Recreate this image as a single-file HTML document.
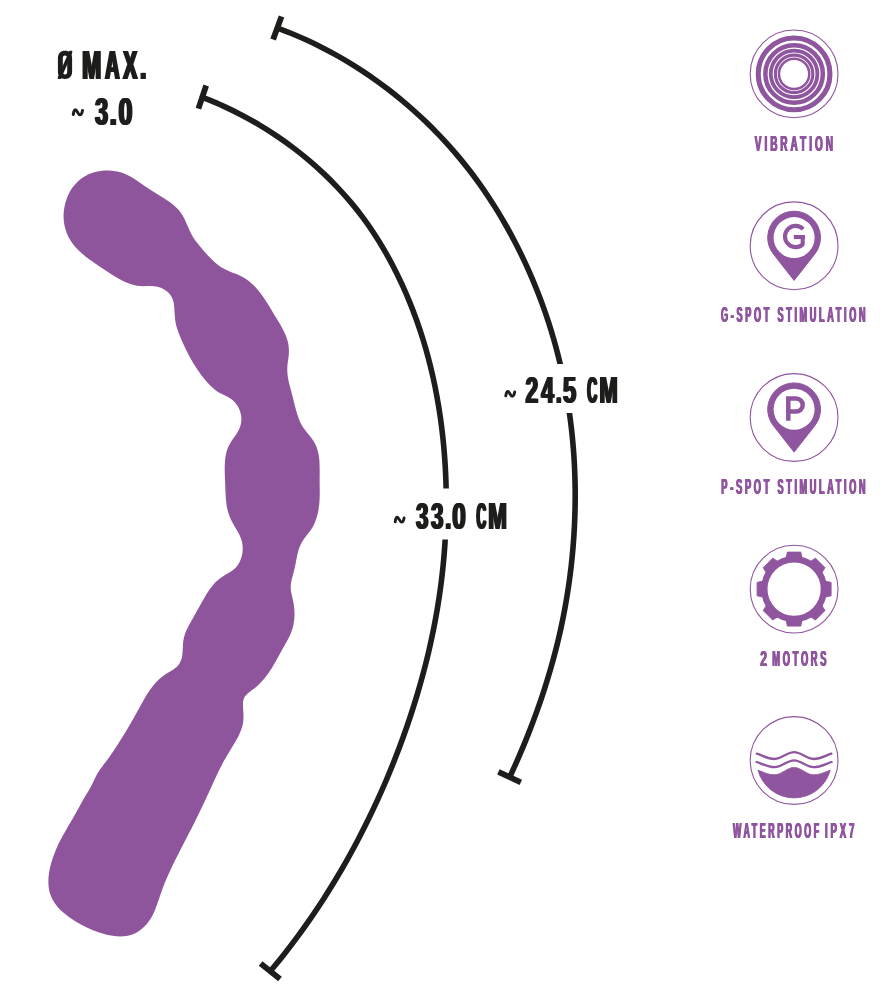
<!DOCTYPE html><html><head><meta charset="utf-8"><style>html,body{margin:0;padding:0;background:#fff}svg{display:block;will-change:transform}</style></head><body><svg width="886" height="1000" viewBox="0 0 886 1000" font-family="Liberation Sans, sans-serif" font-weight="bold">
<rect width="886" height="1000" fill="#fff"/>
<path d="M108.3,170.5C113.0,170.6 117.6,171.4 122.0,172.8C126.4,174.3 130.4,176.3 134.1,178.8C137.9,181.2 141.5,183.9 145.3,186.5C149.0,189.1 153.1,191.5 157.1,193.9C161.2,196.3 165.2,198.7 168.9,201.4C172.7,204.0 176.1,206.9 179.0,210.3C181.8,213.7 184.0,217.7 185.9,221.9C187.8,226.1 189.5,230.5 191.6,234.4C193.7,238.4 196.4,241.9 199.3,245.4C202.1,248.8 205.1,252.4 208.2,255.8C211.4,259.3 214.7,262.5 218.4,265.3C222.0,268.0 226.0,270.1 230.2,271.7C234.4,273.3 238.8,274.7 242.7,276.9C246.7,279.1 250.3,282.0 253.6,285.2C256.8,288.5 259.7,292.0 262.4,295.7C265.1,299.4 267.5,303.3 269.9,307.2C272.2,311.1 274.5,315.1 276.9,319.0C279.3,322.9 281.7,326.8 283.7,330.9C285.8,335.0 287.4,339.3 288.3,343.8C289.1,348.3 289.1,352.9 288.5,357.5C287.8,362.1 287.1,366.6 287.3,371.1C287.4,375.6 288.3,380.0 289.4,384.5C290.5,388.9 291.8,393.3 292.9,397.8C294.0,402.3 295.0,406.8 296.3,411.1C297.5,415.5 299.0,419.8 301.0,423.8C303.1,427.8 306.0,431.5 309.0,435.1C312.0,438.7 314.7,442.4 316.4,446.5C318.0,450.6 318.9,455.1 319.3,459.6C319.7,464.2 319.7,468.9 319.7,473.5C319.6,478.2 319.6,482.8 319.7,487.3C319.8,491.8 319.8,496.3 319.5,500.9C319.2,505.5 318.6,510.1 317.5,514.5C316.4,519.0 314.9,523.2 312.6,527.2C310.4,531.1 307.2,534.6 304.5,538.3C301.8,541.9 299.8,545.9 298.5,550.2C297.2,554.5 296.5,559.1 295.6,563.7C294.8,568.3 293.6,572.8 292.3,577.2C291.1,581.6 290.3,585.9 290.9,590.4C291.6,594.8 293.0,599.3 293.7,603.9C294.4,608.4 294.7,613.0 294.4,617.6C294.1,622.1 293.3,626.5 291.8,630.8C290.3,635.1 288.1,639.2 285.8,643.2C283.5,647.3 281.3,651.3 279.1,655.3C276.9,659.4 274.7,663.4 272.3,667.2C269.9,671.0 267.4,674.8 264.6,678.2C261.7,681.7 258.5,685.0 254.9,687.9C251.2,690.8 246.8,693.3 244.7,696.8C242.5,700.4 242.9,705.1 243.2,709.9C243.5,714.7 243.8,719.4 242.9,723.8C242.0,728.3 240.3,732.4 238.3,736.5C236.2,740.5 233.7,744.4 231.3,748.4C228.8,752.3 226.5,756.3 224.3,760.3C222.1,764.3 220.0,768.4 218.0,772.5C216.0,776.6 214.1,780.7 212.2,784.9C210.3,789.0 208.5,793.1 206.6,797.3C204.7,801.4 202.8,805.5 200.8,809.6C198.8,813.8 196.8,817.8 194.7,821.9C192.7,826.0 190.6,830.1 188.5,834.1C186.4,838.2 184.3,842.3 182.2,846.3C180.1,850.4 178.1,854.5 176.0,858.6C174.0,862.6 172.0,866.7 170.1,870.8C168.2,874.9 166.3,879.1 164.6,883.3C162.9,887.5 161.3,891.8 159.9,896.2C158.4,900.5 157.0,904.9 155.3,909.2C153.6,913.4 151.6,917.5 148.9,921.2C146.3,924.9 143.0,928.3 139.1,930.9C135.3,933.6 131.0,935.2 126.5,935.9C122.1,936.6 117.4,936.5 112.8,935.8C108.1,935.1 103.6,933.9 99.2,932.5C94.9,931.1 90.9,929.5 86.9,927.6C82.9,925.7 78.9,923.5 74.9,921.0C70.9,918.5 66.9,915.7 63.3,912.6C59.8,909.5 56.6,906.1 54.1,902.3C51.7,898.6 50.0,894.5 49.1,890.1C48.3,885.8 48.2,881.2 48.6,876.6C49.0,872.0 50.0,867.3 51.2,862.9C52.5,858.4 54.0,854.1 55.8,849.9C57.6,845.7 59.6,841.6 61.8,837.6C63.9,833.6 66.2,829.7 68.4,825.7C70.7,821.8 73.1,817.8 75.3,813.9C77.6,809.9 79.7,805.9 81.9,802.0C84.1,798.0 86.6,794.2 88.9,790.3C91.3,786.4 93.2,782.3 95.0,778.2C96.8,774.1 99.3,770.3 102.1,766.7C104.8,763.0 107.6,759.4 110.2,755.7C112.9,751.9 115.4,748.2 117.9,744.3C120.3,740.5 122.7,736.7 125.1,732.8C127.4,728.9 129.7,724.9 132.0,721.0C134.3,717.0 136.5,713.0 138.7,709.0C140.9,704.9 143.1,700.9 145.4,696.9C147.8,693.0 150.2,689.2 153.1,685.7C155.9,682.1 159.1,678.9 162.8,676.2C166.6,673.4 171.1,671.3 174.7,668.6C178.3,665.9 180.7,662.3 181.8,658.0C182.8,653.6 182.7,648.8 183.0,644.1C183.3,639.4 184.4,635.0 186.2,630.8C188.0,626.7 190.3,622.7 192.6,618.7C194.8,614.8 197.1,610.8 199.3,606.8C201.6,602.8 203.8,598.7 206.1,594.8C208.5,590.8 211.1,587.1 214.1,583.7C217.1,580.4 220.6,577.6 224.6,575.2C228.6,572.9 232.8,570.8 235.9,567.4C239.0,564.1 241.0,559.8 242.0,555.3C243.0,550.7 243.0,546.0 241.9,541.6C240.8,537.1 238.6,533.1 236.2,529.1C233.9,525.2 231.4,521.3 229.8,517.1C228.1,512.8 227.0,508.4 226.4,503.9C225.8,499.4 225.6,494.8 225.4,490.2C225.3,485.6 225.0,481.0 224.9,476.4C224.7,471.8 224.6,467.3 224.9,462.7C225.2,458.1 225.9,453.6 227.3,449.3C228.8,445.0 231.3,441.1 234.0,437.4C236.7,433.6 239.3,429.8 240.5,425.4C241.8,421.1 241.7,416.3 240.3,411.9C238.9,407.4 236.3,403.3 232.8,400.3C229.4,397.3 224.9,395.7 220.9,393.6C216.9,391.5 213.4,388.7 210.2,385.5C207.0,382.3 204.1,378.8 201.4,375.2C198.6,371.5 196.0,367.7 193.6,363.7C191.3,359.7 189.0,355.7 186.9,351.5C184.9,347.4 182.9,343.3 181.1,339.1C179.3,335.0 177.7,330.9 176.5,326.6C175.3,322.3 174.9,317.7 174.6,313.0C174.4,308.3 174.2,303.6 172.8,299.4C171.4,295.3 168.3,291.7 164.2,289.4C160.0,287.0 155.2,286.2 150.6,286.1C146.0,286.0 141.5,286.4 137.0,285.7C132.6,284.9 128.2,283.3 124.0,281.4C119.9,279.5 115.9,277.2 112.1,274.8C108.3,272.4 104.5,269.8 100.7,267.3C96.8,264.7 93.0,262.1 89.2,259.3C85.5,256.5 81.9,253.6 78.7,250.5C75.4,247.3 72.5,243.9 70.2,240.1C67.8,236.3 66.1,232.1 65.0,227.6C63.9,223.1 63.4,218.4 63.6,213.7C63.9,209.0 64.8,204.3 66.3,199.9C67.8,195.5 69.9,191.3 72.5,187.6C75.2,183.9 78.4,180.6 82.1,178.0C85.8,175.4 90.0,173.4 94.4,172.2C98.9,170.9 103.6,170.4 108.3,170.5Z" fill="#8e559c"/>
<g fill="none" stroke="#1d1d1b" stroke-width="5.6">
<path d="M277.32,28.00C282.24,29.91 287.19,31.72 292.07,33.73C296.95,35.74 301.80,37.85 306.60,40.05C311.40,42.25 316.17,44.54 320.89,46.93C325.61,49.32 330.29,51.81 334.93,54.38C339.57,56.96 344.16,59.62 348.71,62.38C353.26,65.14 357.77,67.98 362.22,70.92C366.68,73.85 371.10,76.88 375.46,79.99C379.82,83.09 384.14,86.29 388.40,89.57C392.66,92.85 396.88,96.22 401.04,99.67C405.20,103.12 409.31,106.65 413.36,110.26C417.41,113.87 421.41,117.57 425.34,121.34C429.28,125.11 433.16,128.97 436.97,132.90C440.77,136.83 444.52,140.84 448.20,144.92C451.87,149.00 455.48,153.16 459.02,157.40C462.55,161.63 466.01,165.94 469.40,170.32C472.78,174.70 476.09,179.15 479.33,183.68C482.56,188.20 485.72,192.80 488.80,197.46C491.89,202.12 494.89,206.85 497.83,211.65C500.76,216.45 503.62,221.32 506.41,226.25C509.19,231.18 511.91,236.18 514.55,241.24C517.19,246.30 519.76,251.42 522.25,256.61C524.74,261.79 527.16,267.04 529.50,272.35C531.83,277.66 534.10,283.02 536.27,288.45C538.45,293.87 540.55,299.36 542.56,304.90C544.57,310.44 546.50,316.04 548.34,321.69C550.17,327.34 551.93,333.05 553.59,338.81C555.25,344.57 556.82,350.38 558.30,356.24C559.77,362.11 561.16,368.02 562.45,373.99C563.74,379.95 564.94,385.97 566.04,392.03C567.14,398.09 568.15,404.20 569.05,410.35C569.96,416.51 570.77,422.71 571.48,428.96C572.18,435.20 572.79,441.49 573.30,447.82C573.81,454.15 574.22,460.53 574.52,466.94C574.82,473.36 575.03,479.81 575.13,486.31C575.22,492.80 575.22,499.34 575.11,505.91C575.00,512.48 574.78,519.09 574.46,525.73C574.14,532.37 573.71,539.05 573.16,545.76C572.62,552.47 571.97,559.22 571.20,566.00C570.43,572.77 569.55,579.58 568.54,586.42C567.53,593.26 566.41,600.13 565.15,607.03C563.90,613.92 562.52,620.85 561.00,627.80C559.49,634.76 557.85,641.74 556.07,648.74C554.29,655.74 552.38,662.77 550.34,669.82C548.29,676.87 546.11,683.95 543.80,691.04C541.49,698.14 539.05,705.26 536.47,712.39C533.90,719.53 531.19,726.69 528.35,733.86C525.52,741.03 522.55,748.23 519.45,755.43C516.36,762.64 513.00,769.88 509.77,777.10"/>
<path d="M202.30,97.10C208.98,99.93 215.81,102.61 222.33,105.59C228.85,108.56 235.22,111.68 241.43,114.94C247.65,118.19 253.72,121.59 259.63,125.12C265.55,128.65 271.32,132.32 276.94,136.12C282.57,139.91 288.05,143.84 293.39,147.89C298.73,151.94 303.92,156.11 308.98,160.40C314.04,164.70 318.97,169.11 323.75,173.64C328.53,178.17 333.18,182.81 337.67,187.56C342.16,192.32 346.52,197.18 350.70,202.15C354.88,207.11 358.91,212.19 362.76,217.36C366.62,222.53 370.30,227.81 373.83,233.17C377.37,238.54 380.72,244.00 383.96,249.56C387.19,255.11 390.28,260.75 393.24,266.48C396.21,272.21 399.05,278.03 401.77,283.92C404.49,289.81 407.09,295.79 409.56,301.84C412.04,307.89 414.39,314.02 416.61,320.21C418.83,326.41 420.92,332.68 422.89,339.01C424.85,345.34 426.69,351.74 428.40,358.20C430.11,364.66 431.69,371.18 433.15,377.75C434.61,384.33 435.94,390.96 437.15,397.65C438.36,404.33 439.44,411.06 440.41,417.84C441.38,424.62 442.22,431.45 442.95,438.32C443.67,445.18 444.28,452.09 444.77,459.04C445.26,465.98 445.63,472.96 445.88,479.98C446.14,486.99 446.27,494.03 446.29,501.10C446.30,508.17 446.20,515.27 445.97,522.39C445.75,529.50 445.41,536.65 444.94,543.80C444.47,550.96 443.88,558.13 443.16,565.32C442.45,572.50 441.61,579.70 440.64,586.90C439.68,594.11 438.59,601.32 437.38,608.53C436.17,615.74 434.83,622.96 433.37,630.17C431.92,637.38 430.34,644.59 428.65,651.79C426.96,658.99 425.14,666.18 423.22,673.36C421.30,680.54 419.27,687.71 417.13,694.86C414.99,702.01 412.74,709.14 410.39,716.25C408.05,723.36 405.59,730.45 403.04,737.51C400.49,744.56 397.84,751.60 395.09,758.60C392.34,765.59 389.50,772.57 386.56,779.49C383.61,786.42 380.58,793.32 377.44,800.17C374.31,807.02 371.08,813.83 367.76,820.59C364.44,827.35 361.02,834.06 357.51,840.72C354.00,847.38 350.40,854.00 346.70,860.55C343.00,867.10 339.21,873.60 335.33,880.03C331.45,886.46 327.47,892.84 323.41,899.15C319.34,905.45 315.18,911.69 310.93,917.86C306.69,924.02 302.35,930.12 297.92,936.14C293.49,942.16 288.98,948.10 284.37,953.96C279.77,959.82 274.99,965.52 270.30,971.30"/>
</g>
<g stroke="#1d1d1b" stroke-width="5.8">
<line x1="281.5" y1="16.4" x2="273.1" y2="39.6"/>
<line x1="206.2" y1="85.5" x2="198.4" y2="108.7"/>
<line x1="498.4" y1="771.9" x2="520.8" y2="782.3"/>
<line x1="260.6" y1="963.5" x2="280.0" y2="979.1"/>
</g>
<rect x="495" y="364" width="130" height="49" fill="#fff"/>
<rect x="385" y="488.5" width="130" height="51" fill="#fff"/>
<g opacity="0.999">
<text x="81.05" y="78.90" font-size="40.50" textLength="19.13" lengthAdjust="spacingAndGlyphs" fill="#1d1d1b">M</text><text x="82.15" y="78.90" font-size="40.50" textLength="19.13" lengthAdjust="spacingAndGlyphs" fill="#1d1d1b">M</text><text x="83.25" y="78.90" font-size="40.50" textLength="19.13" lengthAdjust="spacingAndGlyphs" fill="#1d1d1b">M</text>
<text x="104.05" y="78.90" font-size="40.50" textLength="14.43" lengthAdjust="spacingAndGlyphs" fill="#1d1d1b">A</text><text x="105.15" y="78.90" font-size="40.50" textLength="14.43" lengthAdjust="spacingAndGlyphs" fill="#1d1d1b">A</text><text x="106.25" y="78.90" font-size="40.50" textLength="14.43" lengthAdjust="spacingAndGlyphs" fill="#1d1d1b">A</text>
<text x="122.05" y="78.90" font-size="40.50" textLength="14.19" lengthAdjust="spacingAndGlyphs" fill="#1d1d1b">X</text><text x="123.15" y="78.90" font-size="40.50" textLength="14.19" lengthAdjust="spacingAndGlyphs" fill="#1d1d1b">X</text><text x="124.25" y="78.90" font-size="40.50" textLength="14.19" lengthAdjust="spacingAndGlyphs" fill="#1d1d1b">X</text>
<text x="139.05" y="78.90" font-size="40.50" textLength="6.18" lengthAdjust="spacingAndGlyphs" fill="#1d1d1b">.</text><text x="140.15" y="78.90" font-size="40.50" textLength="6.18" lengthAdjust="spacingAndGlyphs" fill="#1d1d1b">.</text><text x="141.25" y="78.90" font-size="40.50" textLength="6.18" lengthAdjust="spacingAndGlyphs" fill="#1d1d1b">.</text>
<text x="94.05" y="124.80" font-size="39.60" textLength="12.93" lengthAdjust="spacingAndGlyphs" fill="#1d1d1b">3</text><text x="95.15" y="124.80" font-size="39.60" textLength="12.93" lengthAdjust="spacingAndGlyphs" fill="#1d1d1b">3</text><text x="96.25" y="124.80" font-size="39.60" textLength="12.93" lengthAdjust="spacingAndGlyphs" fill="#1d1d1b">3</text>
<text x="108.55" y="124.80" font-size="39.60" textLength="7.23" lengthAdjust="spacingAndGlyphs" fill="#1d1d1b">.</text><text x="109.65" y="124.80" font-size="39.60" textLength="7.23" lengthAdjust="spacingAndGlyphs" fill="#1d1d1b">.</text><text x="110.75" y="124.80" font-size="39.60" textLength="7.23" lengthAdjust="spacingAndGlyphs" fill="#1d1d1b">.</text>
<text x="117.55" y="124.80" font-size="39.60" textLength="13.73" lengthAdjust="spacingAndGlyphs" fill="#1d1d1b">0</text><text x="118.65" y="124.80" font-size="39.60" textLength="13.73" lengthAdjust="spacingAndGlyphs" fill="#1d1d1b">0</text><text x="119.75" y="124.80" font-size="39.60" textLength="13.73" lengthAdjust="spacingAndGlyphs" fill="#1d1d1b">0</text>
<text x="524.40" y="402.60" font-size="37.50" textLength="12.69" lengthAdjust="spacingAndGlyphs" fill="#1d1d1b">2</text><text x="525.45" y="402.60" font-size="37.50" textLength="12.69" lengthAdjust="spacingAndGlyphs" fill="#1d1d1b">2</text><text x="526.50" y="402.60" font-size="37.50" textLength="12.69" lengthAdjust="spacingAndGlyphs" fill="#1d1d1b">2</text>
<text x="540.15" y="402.60" font-size="37.50" textLength="12.69" lengthAdjust="spacingAndGlyphs" fill="#1d1d1b">4</text><text x="541.20" y="402.60" font-size="37.50" textLength="12.69" lengthAdjust="spacingAndGlyphs" fill="#1d1d1b">4</text><text x="542.25" y="402.60" font-size="37.50" textLength="12.69" lengthAdjust="spacingAndGlyphs" fill="#1d1d1b">4</text>
<text x="554.90" y="402.60" font-size="37.50" textLength="5.60" lengthAdjust="spacingAndGlyphs" fill="#1d1d1b">.</text><text x="555.95" y="402.60" font-size="37.50" textLength="5.60" lengthAdjust="spacingAndGlyphs" fill="#1d1d1b">.</text><text x="557.00" y="402.60" font-size="37.50" textLength="5.60" lengthAdjust="spacingAndGlyphs" fill="#1d1d1b">.</text>
<text x="561.90" y="402.60" font-size="37.50" textLength="13.22" lengthAdjust="spacingAndGlyphs" fill="#1d1d1b">5</text><text x="562.95" y="402.60" font-size="37.50" textLength="13.22" lengthAdjust="spacingAndGlyphs" fill="#1d1d1b">5</text><text x="564.00" y="402.60" font-size="37.50" textLength="13.22" lengthAdjust="spacingAndGlyphs" fill="#1d1d1b">5</text>
<text x="586.15" y="402.60" font-size="37.50" textLength="9.90" lengthAdjust="spacingAndGlyphs" fill="#1d1d1b">C</text><text x="587.20" y="402.60" font-size="37.50" textLength="9.90" lengthAdjust="spacingAndGlyphs" fill="#1d1d1b">C</text><text x="588.25" y="402.60" font-size="37.50" textLength="9.90" lengthAdjust="spacingAndGlyphs" fill="#1d1d1b">C</text>
<text x="598.40" y="402.60" font-size="37.50" textLength="18.16" lengthAdjust="spacingAndGlyphs" fill="#1d1d1b">M</text><text x="599.45" y="402.60" font-size="37.50" textLength="18.16" lengthAdjust="spacingAndGlyphs" fill="#1d1d1b">M</text><text x="600.50" y="402.60" font-size="37.50" textLength="18.16" lengthAdjust="spacingAndGlyphs" fill="#1d1d1b">M</text>
<text x="414.90" y="528.70" font-size="37.50" textLength="12.40" lengthAdjust="spacingAndGlyphs" fill="#1d1d1b">3</text><text x="415.95" y="528.70" font-size="37.50" textLength="12.40" lengthAdjust="spacingAndGlyphs" fill="#1d1d1b">3</text><text x="417.00" y="528.70" font-size="37.50" textLength="12.40" lengthAdjust="spacingAndGlyphs" fill="#1d1d1b">3</text>
<text x="429.90" y="528.70" font-size="37.50" textLength="12.41" lengthAdjust="spacingAndGlyphs" fill="#1d1d1b">3</text><text x="430.95" y="528.70" font-size="37.50" textLength="12.41" lengthAdjust="spacingAndGlyphs" fill="#1d1d1b">3</text><text x="432.00" y="528.70" font-size="37.50" textLength="12.41" lengthAdjust="spacingAndGlyphs" fill="#1d1d1b">3</text>
<text x="444.15" y="528.70" font-size="37.50" textLength="5.99" lengthAdjust="spacingAndGlyphs" fill="#1d1d1b">.</text><text x="445.20" y="528.70" font-size="37.50" textLength="5.99" lengthAdjust="spacingAndGlyphs" fill="#1d1d1b">.</text><text x="446.25" y="528.70" font-size="37.50" textLength="5.99" lengthAdjust="spacingAndGlyphs" fill="#1d1d1b">.</text>
<text x="451.15" y="528.70" font-size="37.50" textLength="13.51" lengthAdjust="spacingAndGlyphs" fill="#1d1d1b">0</text><text x="452.20" y="528.70" font-size="37.50" textLength="13.51" lengthAdjust="spacingAndGlyphs" fill="#1d1d1b">0</text><text x="453.25" y="528.70" font-size="37.50" textLength="13.51" lengthAdjust="spacingAndGlyphs" fill="#1d1d1b">0</text>
<text x="475.40" y="528.70" font-size="37.50" textLength="9.65" lengthAdjust="spacingAndGlyphs" fill="#1d1d1b">C</text><text x="476.45" y="528.70" font-size="37.50" textLength="9.65" lengthAdjust="spacingAndGlyphs" fill="#1d1d1b">C</text><text x="477.50" y="528.70" font-size="37.50" textLength="9.65" lengthAdjust="spacingAndGlyphs" fill="#1d1d1b">C</text>
<text x="487.15" y="528.70" font-size="37.50" textLength="18.64" lengthAdjust="spacingAndGlyphs" fill="#1d1d1b">M</text><text x="488.20" y="528.70" font-size="37.50" textLength="18.64" lengthAdjust="spacingAndGlyphs" fill="#1d1d1b">M</text><text x="489.25" y="528.70" font-size="37.50" textLength="18.64" lengthAdjust="spacingAndGlyphs" fill="#1d1d1b">M</text>
<text x="754.25" y="150.50" font-size="22.00" letter-spacing="6.5" textLength="81.13" lengthAdjust="spacingAndGlyphs" fill="#8f559e">VIBRATION</text><text x="754.75" y="150.50" font-size="22.00" letter-spacing="6.5" textLength="81.13" lengthAdjust="spacingAndGlyphs" fill="#8f559e">VIBRATION</text><text x="755.25" y="150.50" font-size="22.00" letter-spacing="6.5" textLength="81.13" lengthAdjust="spacingAndGlyphs" fill="#8f559e">VIBRATION</text>
<text x="720.50" y="322.10" font-size="22.00" letter-spacing="6.5" textLength="50.88" lengthAdjust="spacingAndGlyphs" fill="#8f559e">G-SPOT</text><text x="721.00" y="322.10" font-size="22.00" letter-spacing="6.5" textLength="50.88" lengthAdjust="spacingAndGlyphs" fill="#8f559e">G-SPOT</text><text x="721.50" y="322.10" font-size="22.00" letter-spacing="6.5" textLength="50.88" lengthAdjust="spacingAndGlyphs" fill="#8f559e">G-SPOT</text>
<text x="777.00" y="322.10" font-size="22.00" letter-spacing="6.5" textLength="90.61" lengthAdjust="spacingAndGlyphs" fill="#8f559e">STIMULATION</text><text x="777.50" y="322.10" font-size="22.00" letter-spacing="6.5" textLength="90.61" lengthAdjust="spacingAndGlyphs" fill="#8f559e">STIMULATION</text><text x="778.00" y="322.10" font-size="22.00" letter-spacing="6.5" textLength="90.61" lengthAdjust="spacingAndGlyphs" fill="#8f559e">STIMULATION</text>
<text x="720.75" y="494.00" font-size="22.00" letter-spacing="6.5" textLength="50.93" lengthAdjust="spacingAndGlyphs" fill="#8f559e">P-SPOT</text><text x="721.25" y="494.00" font-size="22.00" letter-spacing="6.5" textLength="50.93" lengthAdjust="spacingAndGlyphs" fill="#8f559e">P-SPOT</text><text x="721.75" y="494.00" font-size="22.00" letter-spacing="6.5" textLength="50.93" lengthAdjust="spacingAndGlyphs" fill="#8f559e">P-SPOT</text>
<text x="777.00" y="494.00" font-size="22.00" letter-spacing="6.5" textLength="90.61" lengthAdjust="spacingAndGlyphs" fill="#8f559e">STIMULATION</text><text x="777.50" y="494.00" font-size="22.00" letter-spacing="6.5" textLength="90.61" lengthAdjust="spacingAndGlyphs" fill="#8f559e">STIMULATION</text><text x="778.00" y="494.00" font-size="22.00" letter-spacing="6.5" textLength="90.61" lengthAdjust="spacingAndGlyphs" fill="#8f559e">STIMULATION</text>
<text x="759.75" y="666.00" font-size="22.00" letter-spacing="6.5" textLength="10.34" lengthAdjust="spacingAndGlyphs" fill="#8f559e">2</text><text x="760.25" y="666.00" font-size="22.00" letter-spacing="6.5" textLength="10.34" lengthAdjust="spacingAndGlyphs" fill="#8f559e">2</text><text x="760.75" y="666.00" font-size="22.00" letter-spacing="6.5" textLength="10.34" lengthAdjust="spacingAndGlyphs" fill="#8f559e">2</text>
<text x="771.75" y="666.00" font-size="22.00" letter-spacing="6.5" textLength="56.93" lengthAdjust="spacingAndGlyphs" fill="#8f559e">MOTORS</text><text x="772.25" y="666.00" font-size="22.00" letter-spacing="6.5" textLength="56.93" lengthAdjust="spacingAndGlyphs" fill="#8f559e">MOTORS</text><text x="772.75" y="666.00" font-size="22.00" letter-spacing="6.5" textLength="56.93" lengthAdjust="spacingAndGlyphs" fill="#8f559e">MOTORS</text>
<text x="732.50" y="838.00" font-size="22.00" letter-spacing="6.5" textLength="88.81" lengthAdjust="spacingAndGlyphs" fill="#8f559e">WATERPROOF</text><text x="733.00" y="838.00" font-size="22.00" letter-spacing="6.5" textLength="88.81" lengthAdjust="spacingAndGlyphs" fill="#8f559e">WATERPROOF</text><text x="733.50" y="838.00" font-size="22.00" letter-spacing="6.5" textLength="88.81" lengthAdjust="spacingAndGlyphs" fill="#8f559e">WATERPROOF</text>
<text x="824.50" y="838.00" font-size="22.00" letter-spacing="6.5" textLength="32.09" lengthAdjust="spacingAndGlyphs" fill="#8f559e">IPX7</text><text x="825.00" y="838.00" font-size="22.00" letter-spacing="6.5" textLength="32.09" lengthAdjust="spacingAndGlyphs" fill="#8f559e">IPX7</text><text x="825.50" y="838.00" font-size="22.00" letter-spacing="6.5" textLength="32.09" lengthAdjust="spacingAndGlyphs" fill="#8f559e">IPX7</text>
</g>
<defs><clipPath id="oc"><rect x="57.7" y="50.8" width="14.6" height="28.2"/></clipPath></defs>
<path fill="#1d1d1b" fill-rule="evenodd" d="M65,50.8c4.3,0 7.1,2.6 7.1,7.2v13.8c0,4.6-2.8,7.2-7.1,7.2s-7.1-2.6-7.1-7.2v-13.8c0-4.6 2.8-7.2 7.1-7.2zM65,55.4c-1.5,0-2.2,0.9-2.2,2.5v14c0,1.6 0.7,2.5 2.2,2.5s2.2-0.9 2.2-2.5v-14c0-1.6-0.7-2.5-2.2-2.5z"/>
<line x1="58.5" y1="80" x2="71.7" y2="49.8" stroke="#1d1d1b" stroke-width="3.5" clip-path="url(#oc)"/>
<path transform="translate(71.5,108.2) scale(1.04)" d="M1.7,6.1C2.0,3.6 2.7,1.6 3.8,1.6C5.3,1.6 6.4,6.4 8.1,6.4C9.4,6.4 10.2,4.4 10.6,2.2" fill="none" stroke="#1d1d1b" stroke-width="2.9" stroke-linecap="round"/>
<path transform="translate(504.1,389.8) scale(1.0)" d="M1.7,6.1C2.0,3.6 2.7,1.6 3.8,1.6C5.3,1.6 6.4,6.4 8.1,6.4C9.4,6.4 10.2,4.4 10.6,2.2" fill="none" stroke="#1d1d1b" stroke-width="2.9" stroke-linecap="round"/>
<path transform="translate(393.5,515.7) scale(1.0)" d="M1.7,6.1C2.0,3.6 2.7,1.6 3.8,1.6C5.3,1.6 6.4,6.4 8.1,6.4C9.4,6.4 10.2,4.4 10.6,2.2" fill="none" stroke="#1d1d1b" stroke-width="2.9" stroke-linecap="round"/>
<g fill="#8f559e" stroke="#8f559e">
<circle cx="794.1" cy="73.9" r="43.9" fill="none" stroke-width="1.1"/>
<circle cx="794.1" cy="245.8" r="43.9" fill="none" stroke-width="1.1"/>
<circle cx="794.1" cy="417.5" r="43.9" fill="none" stroke-width="1.1"/>
<circle cx="794.1" cy="589.1" r="43.9" fill="none" stroke-width="1.1"/>
<circle cx="794.1" cy="760.5" r="43.9" fill="none" stroke-width="1.1"/>
<circle cx="794.1" cy="73.9" r="35.85" fill="none" stroke-width="5.1"/>
<circle cx="794.1" cy="73.9" r="28.75" fill="none" stroke-width="4.5"/>
<circle cx="794.1" cy="73.9" r="23.3" fill="none" stroke-width="3.8"/>
<circle cx="794.1" cy="73.9" r="18.75" fill="none" stroke-width="3.1"/>
<circle cx="794.1" cy="73.9" r="15.15" fill="none" stroke-width="2.5"/>
<g transform="translate(794.1,237.60000000000002)">
<path d="M0,42.8 L-20.78,16.29 A26.4,26.4 0 1 1 20.78,16.29 Z" stroke-width="1" stroke-linejoin="round"/>
<circle r="20.5" fill="#fff" stroke="none"/>
<g transform="translate(1.5,-1.1)" fill="none" stroke-width="4.1"><path d="M7.6,-7.4 A10.6,10.6 0 1 0 7.1,7.87 L7.1,-1.5" stroke-linejoin="round"/><path d="M9.15,0.55 L-1.76,0.55"/></g>
</g>
<g transform="translate(794.1,409.3)">
<path d="M0,42.8 L-20.78,16.29 A26.4,26.4 0 1 1 20.78,16.29 Z" stroke-width="1" stroke-linejoin="round"/>
<circle r="20.5" fill="#fff" stroke="none"/>
<path d="M-5.8,11.4 V-10.8 H2.1 A6.5,6.5 0 0 1 2.1,2.2 H-5.8" fill="none" stroke-width="4.5"/>
</g>
<g transform="translate(794.1,589.1)"><circle r="29.8" fill="none" stroke-width="6.4"/><path transform="rotate(0)" d="M-7.9,-31.5 L-6.7,-37.0 L6.7,-37.0 L7.9,-31.5 Z" stroke-width="0.9" stroke-linejoin="round"/><path transform="rotate(45)" d="M-7.9,-31.5 L-6.7,-37.0 L6.7,-37.0 L7.9,-31.5 Z" stroke-width="0.9" stroke-linejoin="round"/><path transform="rotate(90)" d="M-7.9,-31.5 L-6.7,-37.0 L6.7,-37.0 L7.9,-31.5 Z" stroke-width="0.9" stroke-linejoin="round"/><path transform="rotate(135)" d="M-7.9,-31.5 L-6.7,-37.0 L6.7,-37.0 L7.9,-31.5 Z" stroke-width="0.9" stroke-linejoin="round"/><path transform="rotate(180)" d="M-7.9,-31.5 L-6.7,-37.0 L6.7,-37.0 L7.9,-31.5 Z" stroke-width="0.9" stroke-linejoin="round"/><path transform="rotate(225)" d="M-7.9,-31.5 L-6.7,-37.0 L6.7,-37.0 L7.9,-31.5 Z" stroke-width="0.9" stroke-linejoin="round"/><path transform="rotate(270)" d="M-7.9,-31.5 L-6.7,-37.0 L6.7,-37.0 L7.9,-31.5 Z" stroke-width="0.9" stroke-linejoin="round"/><path transform="rotate(315)" d="M-7.9,-31.5 L-6.7,-37.0 L6.7,-37.0 L7.9,-31.5 Z" stroke-width="0.9" stroke-linejoin="round"/></g>
<g transform="translate(794.1,760.5)"><path d="M-37.3,-6.8 C-31.299999999999997,-5.00 -26.5,-1.5 -19.5,-1.5 C-12.5,-1.5 -7,-8.3 0,-8.3 C7,-8.3 12.5,-1.5 19.5,-1.5 C26.5,-1.5 31.299999999999997,-5.00 37.3,-6.8" fill="none" stroke-width="2.3" stroke-linecap="round"/><path d="M-37.5,1.5 C-31.5,3.30 -26.5,6.7 -19.5,6.7 C-12.5,6.7 -7,-0.05 0,-0.05 C7,-0.05 12.5,6.7 19.5,6.7 C26.5,6.7 31.5,3.30 37.5,1.5" fill="none" stroke-width="2.3" stroke-linecap="round"/><path d="M-36.2,9.7 C-30.200000000000003,11.50 -26.5,14.3 -19.5,14.3 C-12.5,14.3 -7,6.9 0,6.9 C7,6.9 12.5,14.3 19.5,14.3 C26.5,14.3 30.200000000000003,11.50 36.2,9.7 A37.5,37.5 0 0 1 -36.2,9.7Z" stroke-width="0.8" stroke-linejoin="round"/></g>
</g>
</svg></body></html>
